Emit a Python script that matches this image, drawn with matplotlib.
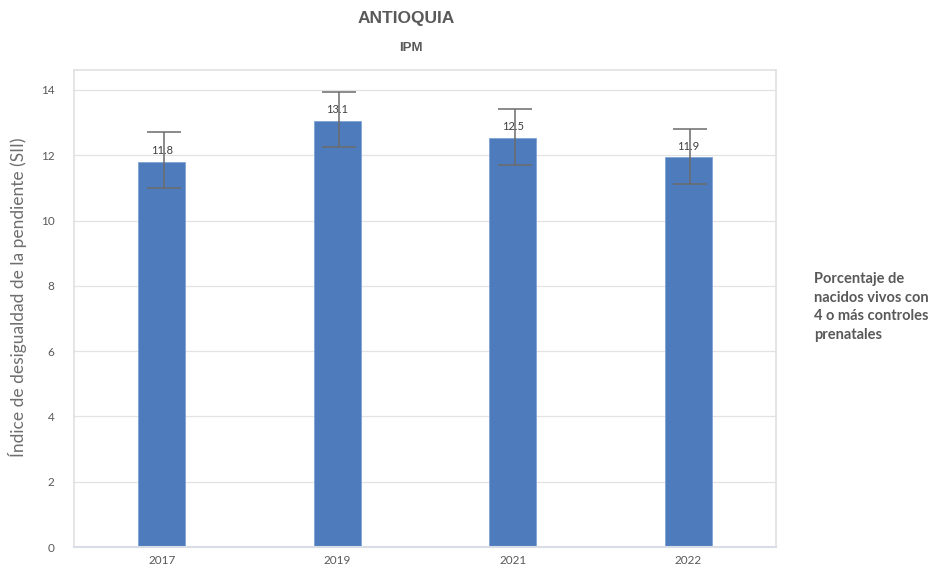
import matplotlib.pyplot as plt
import numpy as np

years = ["2017", "2019", "2021", "2022"]
sii = [11.8, 13.05, 12.53, 11.94]
labels = ["11.8", "13.1", "12.5", "11.9"]
err_low = [10.99, 12.25, 11.70, 11.11]
err_high = [12.71, 13.94, 13.42, 12.80]

BAR = "#4e7bbb"
GREY = "#595959"


def main():
    plt.rcParams["font.family"] = ["Lato", "DejaVu Sans"]
    fig = plt.figure(figsize=(9.35, 5.68), dpi=100)
    ax = fig.add_axes([74 / 935, 1 - 547 / 568, (776 - 74) / 935, (547 - 70) / 568])

    x = np.arange(len(years))
    vals = np.array(sii)
    yerr = np.array([vals - np.array(err_low), np.array(err_high) - vals])

    ax.bar(x, vals, width=0.27, color=BAR, edgecolor="#7fa3d6", linewidth=0.6, zorder=2)
    ax.errorbar(x + 0.01, vals, yerr=yerr, fmt="none", ecolor="#6b6b6b",
                elinewidth=1.1, capsize=12, capthick=1.1, zorder=3)

    for xi, v, lab in zip(x, vals, labels):
        ax.text(xi, v + 0.17, lab, ha="center", va="bottom", fontsize=8,
                color="#404040", zorder=4)

    ax.set_xlim(-0.5, 3.5)
    ax.set_ylim(0, 14.61)
    ax.set_yticks(np.arange(0, 15, 2))
    ax.set_xticks(x)
    ax.set_xticklabels(years)
    ax.tick_params(axis="both", length=0, labelsize=8.5, colors=GREY)
    ax.tick_params(axis="y", pad=14)
    ax.tick_params(axis="x", pad=6)
    ax.grid(axis="y", color="#e3e3e3", linewidth=0.9, zorder=0)
    ax.set_axisbelow(True)
    for s in ax.spines.values():
        s.set_color("#e0e0e0")
        s.set_linewidth(1.2)
    ax.spines["bottom"].set_color("#d9dde6")
    ax.spines["bottom"].set_linewidth(1.5)

    fig.text(18 / 935, 1 - 297 / 568, "Índice de desigualdad de la pendiente (SII)",
             rotation=90, ha="center", va="center", fontsize=12.5, color="#6e6e6e")

    fig.text(406 / 935, 1 - 18 / 568, "ANTIOQUIA", ha="center", va="center",
             fontsize=12.5, fontweight="bold", color=GREY, family="Liberation Sans")
    fig.text(411 / 935, 1 - 48 / 568, "IPM", ha="center", va="center",
             fontsize=9.5, fontweight="bold", color=GREY, family="Liberation Sans")
    fig.text(814 / 935, 1 - 307 / 568,
             "Porcentaje de\nnacidos vivos con\n4 o más controles\nprenatales",
             ha="left", va="center", fontsize=10.5, fontweight="bold",
             color=GREY, linespacing=1.45)

    fig.savefig("out.png", dpi=100)


if __name__ == "__main__":
    main()
